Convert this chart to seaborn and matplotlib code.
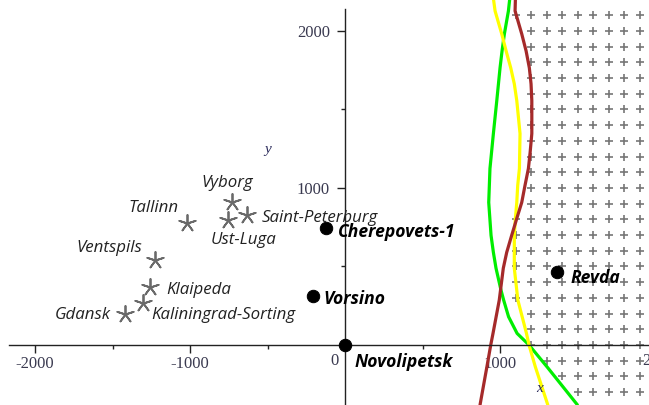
import numpy as np
import pandas as pd
import seaborn as sns
import matplotlib.pyplot as plt

# curves (x as a function of y)
brown_y = [2200, 2127, 1981, 1873, 1765, 1663, 1556, 1346, 1225, 1124, 1016, 908, 806, 698, 590, 489, 286, 76, 0, -140, -381]
brown_x = [1099, 1097, 1140, 1168, 1189, 1200, 1205, 1205, 1194, 1183, 1161, 1140, 1108, 1075, 1043, 1021, 995, 955, 940, 915, 871]

yellow_y = [2200, 2127, 1981, 1873, 1765, 1663, 1556, 1346, 1124, 1016, 908, 806, 698, 489, 286, 76, 0, -140, -381]
yellow_x = [958, 968, 1011, 1039, 1069, 1092, 1108, 1129, 1125, 1114, 1108, 1099, 1092, 1092, 1115, 1170, 1187, 1228, 1308]

green_y = [2200, 2127, 1981, 1873, 1765, 1556, 1346, 1124, 908, 698, 590, 489, 350, 287, 180, 74, 0, -140, -381]
green_x = [1062, 1054, 1028, 1013, 1000, 979, 957, 935, 927, 942, 957, 974, 1006, 1023, 1055, 1110, 1187, 1304, 1499]

# stations
plant_names = ["Novolipetsk", "Cherepovets-1", "Vorsino", "Revda"]
plant_x = [0, -120, -205, 1365]
plant_y = [0, 745, 310, 465]

port_names = ["Vyborg", "Saint-Peterburg", "Ust-Luga", "Tallinn", "Ventspils",
              "Klaipeda", "Kaliningrad-Sorting", "Gdansk"]
port_x = [-731, -634, -755, -1021, -1226, -1258, -1301, -1419]
port_y = [910, 825, 795, 775, 540, 370, 265, 200]

# grid of the feasible region
grid_x = list(range(1100, 2000, 100))
grid_y = list(range(-300, 2200, 100))

# label placement (offset in points, alignment)
plant_offsets = {
    "Novolipetsk": (7, -12, "left"),
    "Cherepovets-1": (8, -3, "left"),
    "Vorsino": (7, -2, "left"),
    "Revda": (10, -4, "left"),
}
port_offsets = {
    "Vyborg": (-3, 14, "center"),
    "Saint-Peterburg": (11, -2, "left"),
    "Ust-Luga": (11, -14, "center"),
    "Tallinn": (-6, 11, "right"),
    "Ventspils": (-9, 9, "right"),
    "Klaipeda": (12, -2, "left"),
    "Kaliningrad-Sorting": (6, -8, "left"),
    "Gdansk": (-10, -1, "right"),
}

sns.set_style("white")
plt.rcParams["font.family"] = ["Open Sans", "Lato", "DejaVu Sans"]

fig = plt.figure(figsize=(6.49, 4.05), dpi=100)
ax = fig.add_axes([0, 0, 1, 1])
ax.set_xlim(-2226, 1961)
ax.set_ylim(-382, 2197)

# plus markers right of all three curves
gx, gy = np.meshgrid(grid_x, grid_y)
gx, gy = gx.ravel(), gy.ravel()
bound = np.maximum.reduce([
    np.interp(gy, brown_y[::-1], brown_x[::-1]),
    np.interp(gy, yellow_y[::-1], yellow_x[::-1]),
    np.interp(gy, green_y[::-1], green_x[::-1]),
])
keep = gx > bound - 15
sns.scatterplot(x=gx[keep], y=gy[keep], marker="+", s=28, color="#777777",
                linewidth=1.2, ax=ax, zorder=1)

for xs, ys, col in [(green_x, green_y, "#00ee00"),
                    (yellow_x, yellow_y, "#ffff00"),
                    (brown_x, brown_y, "#a52a2a")]:
    sns.lineplot(x=xs, y=ys, sort=False, estimator=None, color=col,
                 linewidth=2.3, ax=ax, zorder=2)

sns.scatterplot(x=port_x, y=port_y, marker=(5, 2, 0), s=150, color="#6a6a6a",
                edgecolor="#6a6a6a", linewidth=1.3, ax=ax, zorder=3)
sns.scatterplot(x=plant_x, y=plant_y, marker="o", s=80, color="black",
                edgecolor="black", ax=ax, zorder=4)

for name, x, y in zip(plant_names, plant_x, plant_y):
    dx, dy, ha = plant_offsets[name]
    ax.annotate(name, (x, y), xytext=(dx, dy), textcoords="offset points",
                ha=ha, va="center", fontsize=12.6, fontweight="bold",
                fontstyle="italic", color="black")
for name, x, y in zip(port_names, port_x, port_y):
    dx, dy, ha = port_offsets[name]
    ax.annotate(name, (x, y), xytext=(dx, dy), textcoords="offset points",
                ha=ha, va="center", fontsize=12.2, fontstyle="italic",
                color="#222222")

# axes through the origin
for side in ["top", "right"]:
    ax.spines[side].set_visible(False)
ax.spines["left"].set_position(("data", 0))
ax.spines["bottom"].set_position(("data", 0))
ax.spines["left"].set_bounds(-382, 2140)
ax.spines["bottom"].set_bounds(-2168, 1961)
for side in ["left", "bottom"]:
    ax.spines[side].set_color("#222222")
    ax.spines[side].set_linewidth(1.0)

tick_font = dict(family="Liberation Serif", size=12, color="#3a3a50")
ax.set_xticks([-2000, -1000, 1000])
ax.set_xticklabels(["-2000", "-1000", "1000"], fontdict=tick_font)
ax.set_xticks([-1500, -500, 500, 1500], minor=True)
ax.set_yticks([1000, 2000])
ax.set_yticklabels(["1000", "2000"], fontdict=tick_font)
ax.set_yticks([500, 1500], minor=True)
ax.tick_params(which="major", direction="out", length=6, width=1, color="#222222")
ax.tick_params(which="minor", direction="out", length=3, width=1, color="#222222")
ax.tick_params(axis="x", which="major", pad=2, bottom=True)
ax.tick_params(axis="x", which="minor", bottom=True)
ax.tick_params(axis="y", which="major", pad=5, left=True)
ax.tick_params(axis="y", which="minor", left=True)

ax.text(-65, -102, "0", ha="center", va="center", **tick_font)
# the 2000 label sits past the right edge, only its first digit shows
ax.text(2022, -102, "2000", ha="center", va="center", clip_on=False, **tick_font)

ax.text(1258, -274, "x", ha="center", va="center", family="Liberation Serif",
        style="italic", size=11, color="#2a2a5a")
ax.text(-497, 1242, "y", ha="center", va="center", family="Liberation Serif",
        style="italic", size=11, color="#2a2a5a")

fig.savefig("out.png", dpi=100)
